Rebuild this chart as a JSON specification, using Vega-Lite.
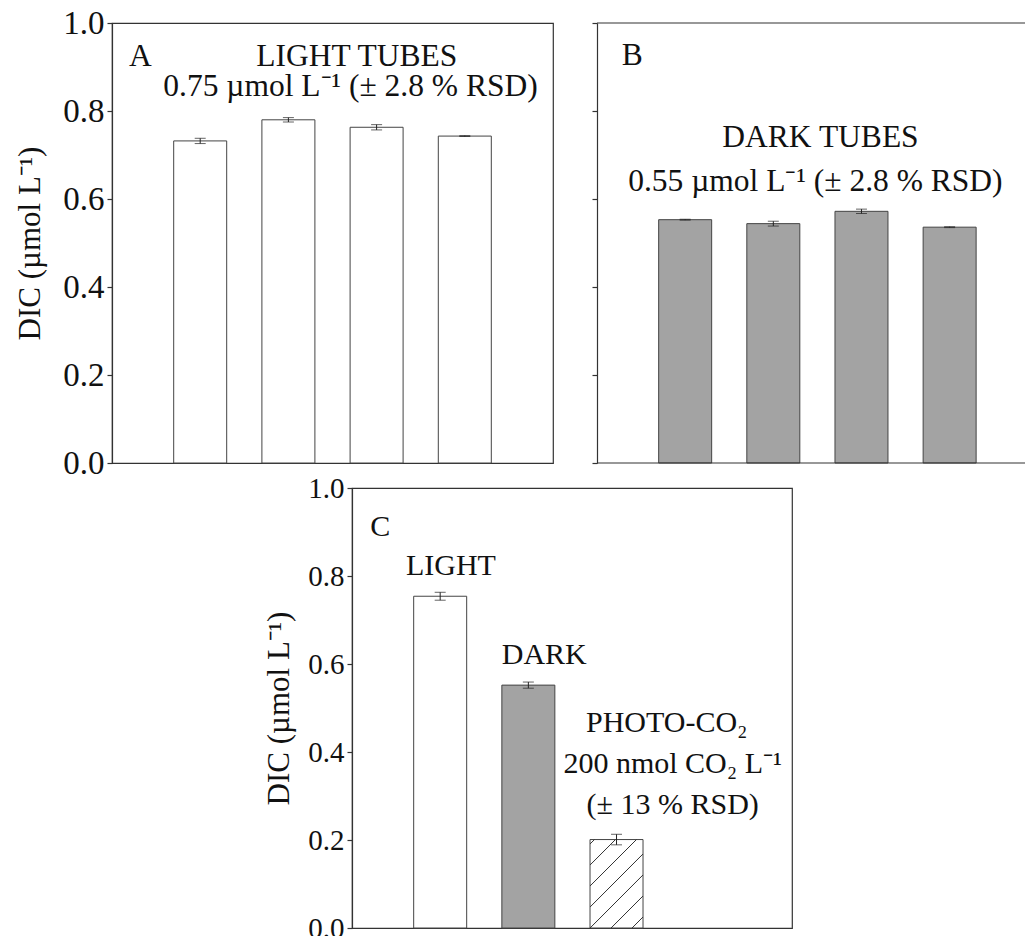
{
  "$schema": "https://vega.github.io/schema/vega-lite/v6.json",
  "padding": {"left": 14, "top": 6, "right": 0, "bottom": 0},
  "background": "white",
  "config": {
    "font": "Liberation Serif",
    "view": {"stroke": "#333", "strokeWidth": 1.2},
    "axis": {
      "labelFont": "Liberation Serif", "titleFont": "Liberation Serif",
      "labelFontSize": 33, "titleFontSize": 31, "labelColor": "#111", "titleColor": "#111",
      "titleFontWeight": "normal", "tickColor": "#333", "domainColor": "#333",
      "tickSize": 5, "tickWidth": 1.2, "domainWidth": 1.2, "grid": false, "labelPadding": 3, "titlePadding": 16
    },
    "text": {"font": "Liberation Serif", "fontSize": 31.5, "color": "#111"}
  },
  "datasets": {
    "lightTubes": [
      {"tube": 1, "dic": 0.732, "lo": 0.726, "hi": 0.738},
      {"tube": 2, "dic": 0.780, "lo": 0.775, "hi": 0.785},
      {"tube": 3, "dic": 0.763, "lo": 0.757, "hi": 0.769},
      {"tube": 4, "dic": 0.743, "lo": 0.742, "hi": 0.744}
    ],
    "darkTubes": [
      {"tube": 1, "dic": 0.553, "lo": 0.552, "hi": 0.554},
      {"tube": 2, "dic": 0.544, "lo": 0.5385, "hi": 0.5495},
      {"tube": 3, "dic": 0.572, "lo": 0.567, "hi": 0.577},
      {"tube": 4, "dic": 0.536, "lo": 0.535, "hi": 0.537}
    ],
    "summary": [
      {"pos": 1, "group": "LIGHT", "dic": 0.754, "lo": 0.745, "hi": 0.763},
      {"pos": 2, "group": "DARK", "dic": 0.552, "lo": 0.545, "hi": 0.559},
      {"pos": 3, "group": "PHOTO-CO2", "dic": 0.201, "lo": 0.189, "hi": 0.213}
    ],
    "hatch": [
      {"x": 3.176, "y": 0.0, "x2": 3.3, "y2": 0.025},
      {"x": 2.938, "y": 0.0, "x2": 3.3, "y2": 0.0727},
      {"x": 2.7, "y": 0.0, "x2": 3.3, "y2": 0.1205},
      {"x": 2.7, "y": 0.0477, "x2": 3.3, "y2": 0.1682},
      {"x": 2.7, "y": 0.0955, "x2": 3.226, "y2": 0.201},
      {"x": 2.7, "y": 0.1432, "x2": 2.988, "y2": 0.201},
      {"x": 2.7, "y": 0.191, "x2": 2.75, "y2": 0.201}
    ],
    "annA": [
      {"x": 0.321, "y": 0.903, "t": "A"},
      {"x": 2.776, "y": 0.903, "t": "LIGHT TUBES"},
      {"x": 2.704, "y": 0.833, "t": "0.75 µmol L⁻¹ (± 2.8 % RSD)"}
    ],
    "annB": [
      {"x": 0.40, "y": 0.904, "t": "B"},
      {"x": 2.535, "y": 0.7186, "t": "DARK TUBES"},
      {"x": 2.477, "y": 0.618, "t": "0.55 µmol L⁻¹ (± 2.8 % RSD)"}
    ],
    "annC": [
      {"x": 0.32, "y": 0.89, "t": "C"},
      {"x": 1.122, "y": 0.8015, "t": "LIGHT"},
      {"x": 2.18, "y": 0.6006, "t": "DARK"},
      {"x": 3.57, "y": 0.445, "t": "PHOTO-CO₂"},
      {"x": 3.637, "y": 0.352, "t": "200 nmol CO₂ L⁻¹"},
      {"x": 3.637, "y": 0.259, "t": "(± 13 % RSD)"}
    ]
  },
  "spacing": -8,
  "vconcat": [
    {
      "spacing": 37,
      "hconcat": [
        {
          "width": 441, "height": 440,
          "layer": [
            {"data": {"name": "lightTubes"},
             "mark": {"type": "bar", "width": 53, "fill": "white", "stroke": "#444", "strokeWidth": 1},
             "encoding": {
               "x": {"field": "tube", "type": "quantitative", "scale": {"domain": [0, 5], "padding": 0, "nice": false, "zero": false}, "axis": null},
               "y": {"field": "dic", "type": "quantitative", "scale": {"domain": [0, 1], "padding": 0, "nice": false},
                     "axis": {"values": [0, 0.2, 0.4, 0.6, 0.8, 1.0], "format": ".1f", "title": "DIC (µmol L⁻¹)"}}}},
            {"data": {"name": "lightTubes"},
             "mark": {"type": "rule", "color": "#222", "strokeWidth": 1},
             "encoding": {"x": {"field": "tube", "type": "quantitative"}, "y": {"field": "lo", "type": "quantitative"}, "y2": {"field": "hi"}}},
            {"data": {"name": "lightTubes"},
             "mark": {"type": "tick", "orient": "horizontal", "size": 11, "thickness": 1, "color": "#222"},
             "encoding": {"x": {"field": "tube", "type": "quantitative"}, "y": {"field": "lo", "type": "quantitative"}}},
            {"data": {"name": "lightTubes"},
             "mark": {"type": "tick", "orient": "horizontal", "size": 11, "thickness": 1, "color": "#222"},
             "encoding": {"x": {"field": "tube", "type": "quantitative"}, "y": {"field": "hi", "type": "quantitative"}}},
            {"data": {"name": "annA"},
             "mark": {"type": "text", "align": "center", "baseline": "alphabetic"},
             "encoding": {"x": {"field": "x", "type": "quantitative"}, "y": {"field": "y", "type": "quantitative"}, "text": {"field": "t"}}}
          ]
        },
        {
          "width": 428, "height": 440,
          "view": {"stroke": null},
          "layer": [
            {"data": {"name": "darkTubes"},
             "mark": {"type": "bar", "width": 53, "fill": "#a3a3a3", "stroke": "#444", "strokeWidth": 1},
             "encoding": {
               "x": {"field": "tube", "type": "quantitative", "scale": {"domain": [0, 4.855], "padding": 0, "nice": false, "zero": false}, "axis": null},
               "y": {"field": "dic", "type": "quantitative", "scale": {"domain": [0, 1], "padding": 0, "nice": false},
                     "axis": {"values": [0, 0.2, 0.4, 0.6, 0.8, 1.0], "labels": false, "title": null}}}},
            {"data": {"name": "darkTubes"},
             "mark": {"type": "rule", "color": "#222", "strokeWidth": 1},
             "encoding": {"x": {"field": "tube", "type": "quantitative"}, "y": {"field": "lo", "type": "quantitative"}, "y2": {"field": "hi"}}},
            {"data": {"name": "darkTubes"},
             "mark": {"type": "tick", "orient": "horizontal", "size": 11, "thickness": 1, "color": "#222"},
             "encoding": {"x": {"field": "tube", "type": "quantitative"}, "y": {"field": "lo", "type": "quantitative"}}},
            {"data": {"name": "darkTubes"},
             "mark": {"type": "tick", "orient": "horizontal", "size": 11, "thickness": 1, "color": "#222"},
             "encoding": {"x": {"field": "tube", "type": "quantitative"}, "y": {"field": "hi", "type": "quantitative"}}},
            {"data": {"values": [{}]},
             "mark": {"type": "rule", "color": "#333", "strokeWidth": 1.2},
             "encoding": {"y": {"datum": 1}}},
            {"data": {"values": [{}]},
             "mark": {"type": "rule", "color": "#333", "strokeWidth": 1.2},
             "encoding": {"y": {"datum": 0}}},
            {"data": {"name": "annB"},
             "mark": {"type": "text", "align": "center", "baseline": "alphabetic"},
             "encoding": {"x": {"field": "x", "type": "quantitative"}, "y": {"field": "y", "type": "quantitative"}, "text": {"field": "t"}}}
          ]
        }
      ]
    },
    {
      "spacing": 0,
      "hconcat": [
        {
          "width": 151, "height": 440,
          "view": {"stroke": null},
          "data": {"values": [{}]},
          "mark": {"type": "point", "opacity": 0},
          "encoding": {}
        },
        {
          "width": 440, "height": 440,
          "layer": [
            {"data": {"name": "summary"},
             "mark": {"type": "bar", "width": 53, "stroke": "#444", "strokeWidth": 1},
             "encoding": {
               "x": {"field": "pos", "type": "quantitative", "scale": {"domain": [0, 4.99], "padding": 0, "nice": false, "zero": false}, "axis": null},
               "y": {"field": "dic", "type": "quantitative", "scale": {"domain": [0, 1], "padding": 0, "nice": false},
                     "axis": {"values": [0, 0.2, 0.4, 0.6, 0.8, 1.0], "format": ".1f", "title": "DIC (µmol L⁻¹)", "labelFontSize": 29, "titlePadding": 12}},
               "fill": {"field": "group", "type": "nominal", "scale": {"domain": ["LIGHT", "DARK", "PHOTO-CO2"], "range": ["white", "#a3a3a3", "white"]}, "legend": null}}},
            {"data": {"name": "hatch"},
             "mark": {"type": "rule", "color": "#333", "strokeWidth": 1},
             "encoding": {"x": {"field": "x", "type": "quantitative"}, "x2": {"field": "x2"}, "y": {"field": "y", "type": "quantitative"}, "y2": {"field": "y2"}}},
            {"data": {"name": "summary"},
             "mark": {"type": "rule", "color": "#222", "strokeWidth": 1},
             "encoding": {"x": {"field": "pos", "type": "quantitative"}, "y": {"field": "lo", "type": "quantitative"}, "y2": {"field": "hi"}}},
            {"data": {"name": "summary"},
             "mark": {"type": "tick", "orient": "horizontal", "size": 11, "thickness": 1, "color": "#222"},
             "encoding": {"x": {"field": "pos", "type": "quantitative"}, "y": {"field": "lo", "type": "quantitative"}}},
            {"data": {"name": "summary"},
             "mark": {"type": "tick", "orient": "horizontal", "size": 11, "thickness": 1, "color": "#222"},
             "encoding": {"x": {"field": "pos", "type": "quantitative"}, "y": {"field": "hi", "type": "quantitative"}}},
            {"data": {"name": "annC"},
             "mark": {"type": "text", "align": "center", "baseline": "alphabetic", "fontSize": 30},
             "encoding": {"x": {"field": "x", "type": "quantitative"}, "y": {"field": "y", "type": "quantitative"}, "text": {"field": "t"}}}
          ]
        }
      ]
    }
  ]
}
